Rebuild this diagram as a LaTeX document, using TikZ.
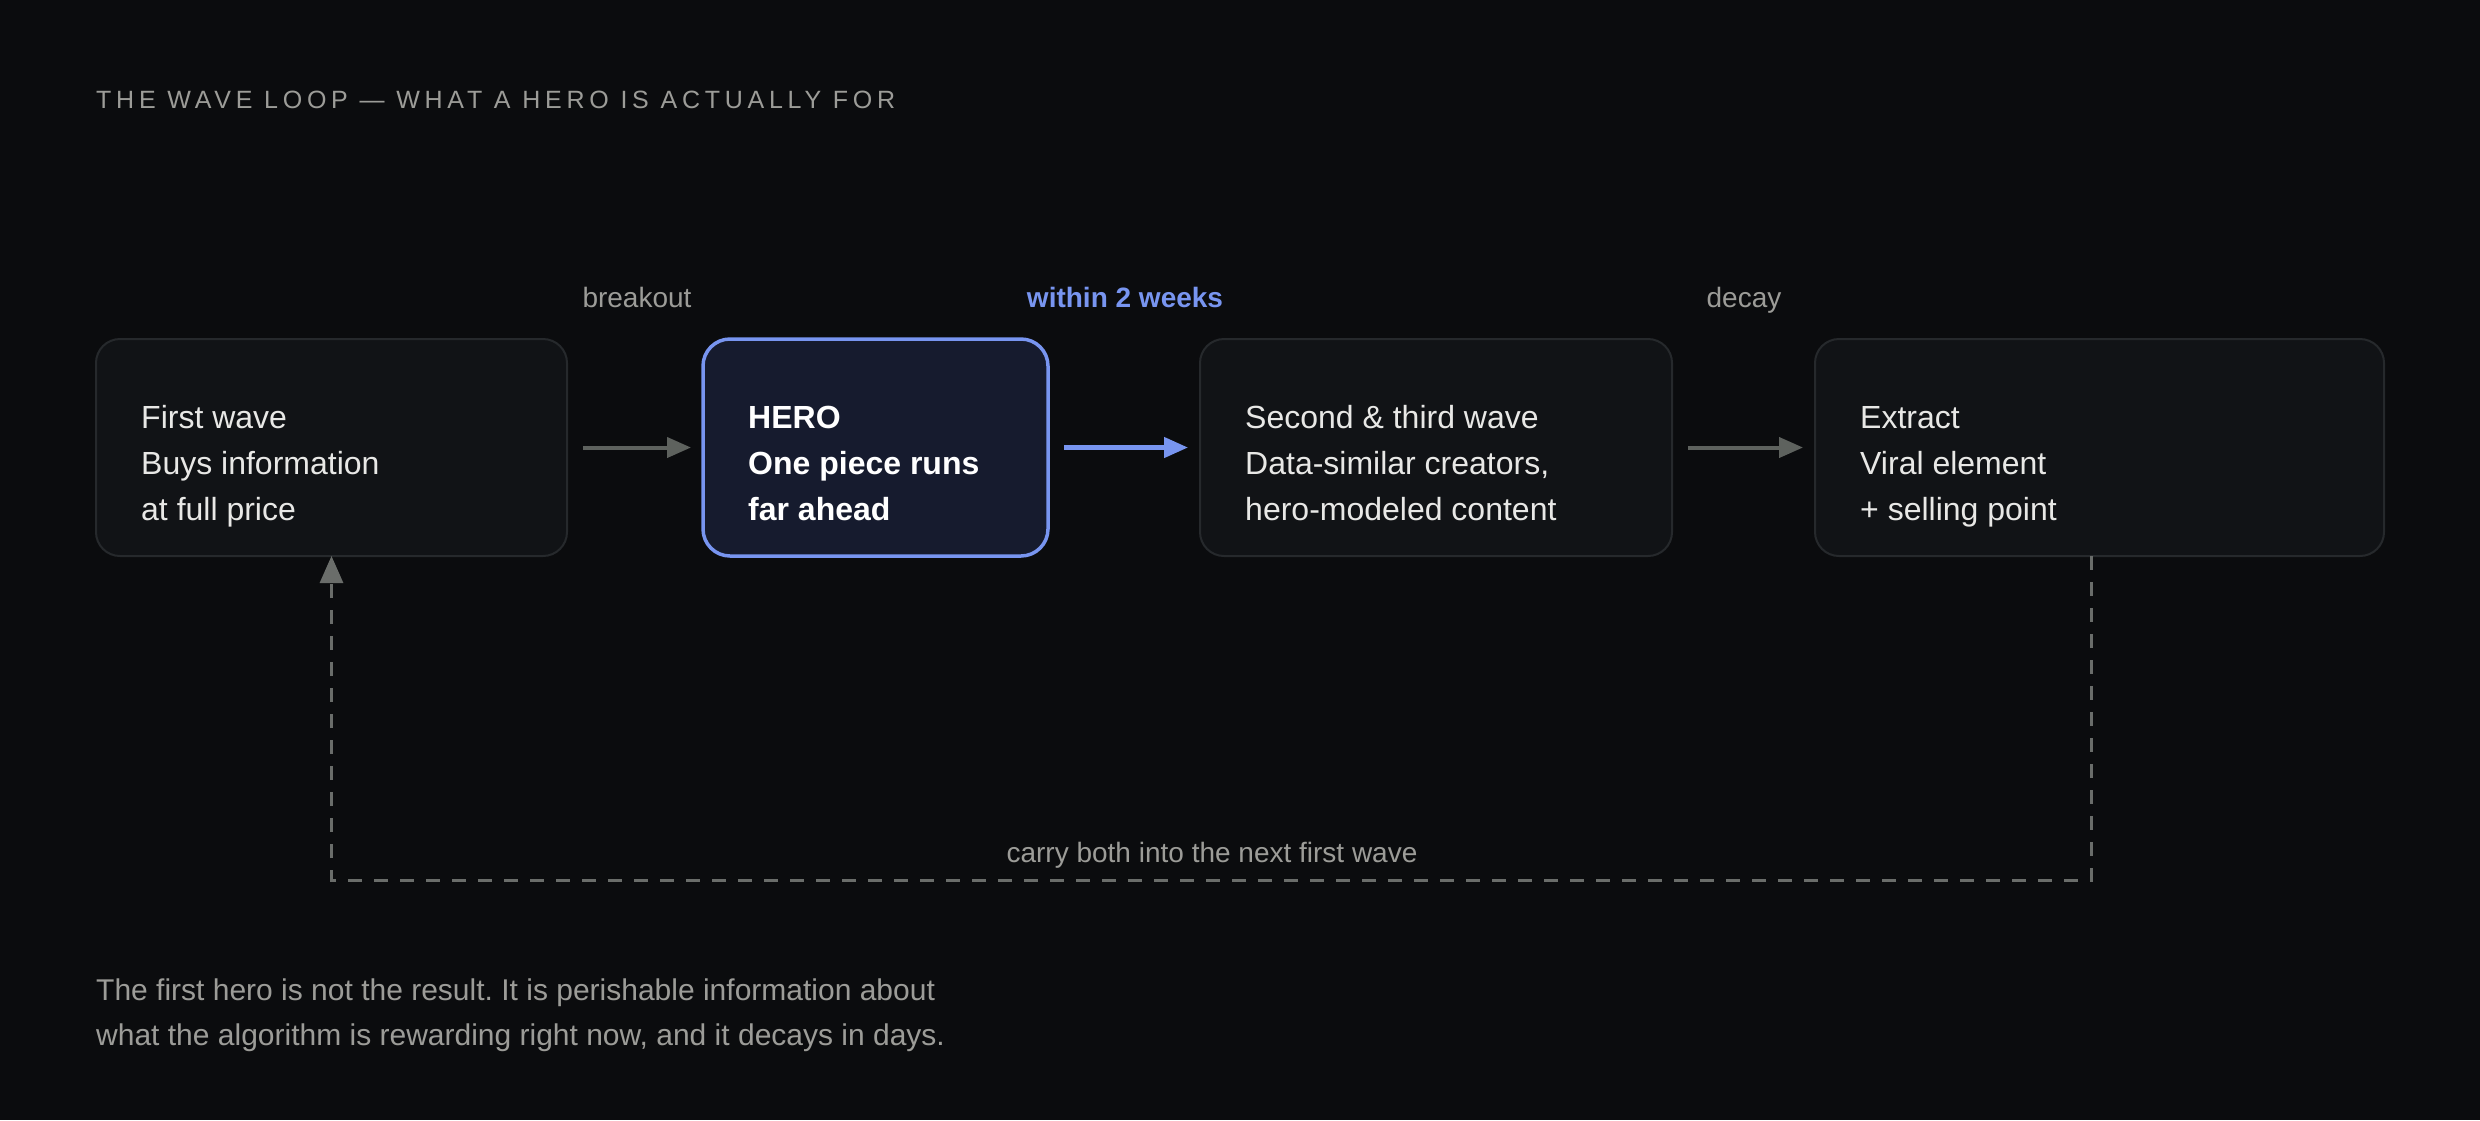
\documentclass[tikz,border=0pt]{standalone}
\usepackage{fontspec}
\setmainfont{Liberation Sans}
\newfontfamily\titlefont[LetterSpace=19]{Liberation Sans}
\usetikzlibrary{arrows.meta}
\frenchspacing
\definecolor{bg}{HTML}{0B0C0E}
\definecolor{boxfill}{HTML}{111316}
\definecolor{boxline}{HTML}{26292C}
\definecolor{herofill}{HTML}{161B2E}
\definecolor{heroline}{HTML}{7895F0}
\definecolor{textc}{HTML}{E8E8E6}
\definecolor{labc}{HTML}{9C9C98}
\definecolor{arrowc}{HTML}{5E625E}
\definecolor{loopc}{HTML}{6A6D6A}
\begin{document}
\begin{tikzpicture}[x=1pt,y=-1pt,
  box/.style={draw=boxline, line width=2pt, fill=boxfill, rounded corners=24pt,
    minimum height=217pt, anchor=north west, inner sep=0pt, outer sep=0pt},
  herobox/.style={box, draw=heroline, fill=herofill, line width=3.5pt, rounded corners=27pt},
  boxtext/.style={anchor=base west, align=left, font=\fontsize{32}{46}\selectfont, text=textc, inner sep=0pt},
  lab/.style={anchor=base, font=\fontsize{28}{34}\selectfont, text=labc, inner sep=0pt},
  flow/.style={draw=arrowc, line width=4pt, -{Triangle[length=24pt,width=20pt]}, shorten <=16pt, shorten >=12pt},
  heroflow/.style={flow, draw=heroline, line width=4.5pt},
  loopline/.style={draw=loopc, line width=3pt, dash pattern=on 14pt off 12pt, -{Triangle[length=27pt,width=23pt]}}
]
\fill[bg] (0,0) rectangle (2480,1120);
\useasboundingbox (0,0) rectangle (2480,1120);

\node[anchor=base west, inner sep=0pt, text=labc, font=\titlefont\fontsize{25}{30}\selectfont] (title) at (96,108)
  {THE WAVE LOOP — WHAT A HERO IS ACTUALLY FOR};

\node[box, minimum width=471pt] (b1) at (96,339) {};
\node[herobox, minimum width=345pt] (b2) at (703,339) {};
\node[box, minimum width=472pt] (b3) at (1200,339) {};
\node[box, minimum width=569pt] (b4) at (1815,339) {};

% base anchor of a multi-line node = baseline of its last line
\node[boxtext] (t1) at (141,520) {First wave\\Buys information\\at full price};
\node[boxtext, font=\bfseries\fontsize{32}{46}\selectfont, text=white] (t2) at (748,520) {HERO\\One piece runs\\far ahead};
\node[boxtext] (t3) at (1245,520) {Second \& third wave\\Data-similar creators,\\hero-modeled content};
\node[boxtext] (t4) at (1860,520) {Extract\\Viral element\\+ selling point};

\draw[flow] (b1.east) -- (b2.west);
\draw[heroflow] (b2.east) -- (b3.west);
\draw[flow] (b3.east) -- (b4.west);

\node[lab] (l1) at (637,307) {breakout};
\node[lab, text=heroline, font=\bfseries\fontsize{28}{34}\selectfont] (l2) at (1125,307) {within 2 weeks};
\node[lab] (l3) at (1744,307) {decay};

\draw[loopline] ([xshift=-8pt]b4.south) -- ++(0,324) -| (b1.south);
\node[lab] (l4) at (1212,862) {carry both into the next first wave};

\node[anchor=base west, align=left, inner sep=0pt, text=labc, font=\fontsize{30}{45.5}\selectfont] (note) at (96,1045.5)
  {The first hero is not the result. It is perishable information about\\what the algorithm is rewarding right now, and it decays in days.};
\end{tikzpicture}
\end{document}
